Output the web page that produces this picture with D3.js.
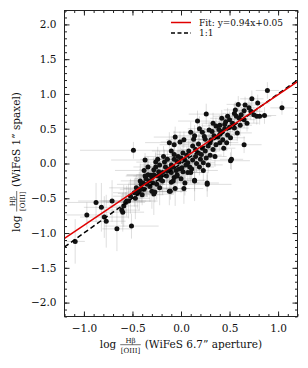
<!DOCTYPE html>
<html>
<head>
<meta charset="utf-8">
<script src="https://cdn.jsdelivr.net/npm/d3@7"></script>
<style>
  body { margin: 0; background: #fff; }
  text { font-family: "DejaVu Serif", serif; fill: #111; }
</style>
</head>
<body>
<script>
var width = 308, height = 368;

// each point: [x, y, xErr, yErr]
var ptsLow = [
  [-1.09,-1.12,0.10,0.32], [-0.97,-0.74,0.22,0.18], [-0.875,-0.56,0.30,0.28], [-0.82,-0.63,0.18,0.35],
  [-0.79,-0.77,0.25,0.30], [-0.77,-0.83,0.20,0.38], [-0.71,-0.54,0.35,0.30], [-0.66,-0.94,0.15,0.32],
  [-0.60,-0.70,0.22,0.28], [-0.61,-0.67,0.18,0.20], [-0.51,-0.90,0.28,0.18], [-0.56,-0.54,0.25,0.22],
  [-0.54,-0.54,0.30,0.25], [-0.59,-0.61,0.15,0.30], [-0.57,-0.56,0.20,0.15], [-0.52,-0.47,0.18,0.25],
  [-0.48,-0.42,0.22,0.20], [-0.47,-0.50,0.15,0.30], [-0.46,-0.35,0.28,0.18], [-0.45,-0.43,0.20,0.22],
  [-0.43,-0.40,0.12,0.28], [-0.41,-0.30,0.25,0.20], [-0.49,0.19,0.55,0.12], [-0.44,-0.38,0.10,0.15],
  [-0.42,-0.25,0.20,0.25]
];
var ptsMidLow = [
  [-0.41,-0.36,0.18,0.20], [-0.40,-0.45,0.22,0.15], [-0.39,-0.28,0.15,0.22], [-0.38,-0.37,0.25,0.12],
  [-0.38,-0.10,0.30,0.18], [-0.37,-0.18,0.20,0.15], [-0.37,0.05,0.35,0.10], [-0.36,-0.22,0.12,0.25],
  [-0.35,-0.30,0.18,0.18], [-0.34,-0.16,0.22,0.20], [-0.34,-0.05,0.15,0.15], [-0.33,-0.25,0.20,0.12],
  [-0.32,-0.33,0.10,0.22], [-0.31,-0.17,0.25,0.18], [-0.30,-0.20,0.15,0.15], [-0.30,-0.40,0.20,0.25],
  [-0.29,-0.28,0.12,0.20], [-0.28,-0.16,0.18,0.12], [-0.28,-0.44,0.20,0.30], [-0.28,-0.09,0.15,0.18],
  [-0.27,-0.41,0.22,0.15], [-0.26,-0.05,0.12,0.20], [-0.26,0.02,0.20,0.15], [-0.25,-0.30,0.15,0.22],
  [-0.24,-0.18,0.25,0.12], [-0.24,0.06,0.18,0.18], [-0.23,-0.12,0.12,0.15], [-0.22,-0.02,0.20,0.20],
  [-0.22,-0.35,0.15,0.25], [-0.21,-0.23,0.18,0.15], [-0.21,-0.18,0.10,0.18], [-0.19,-0.25,0.22,0.20],
  [-0.19,-0.13,0.15,0.12], [-0.18,0.10,0.20,0.15], [-0.17,0.02,0.12,0.18], [-0.16,-0.05,0.18,0.12],
  [-0.15,-0.18,0.15,0.20]
];
var ptsMid = [
  [-0.14,0.06,0.15,0.12], [-0.14,-0.11,0.20,0.15], [-0.12,-0.40,0.18,0.20], [-0.12,0.30,0.25,0.15],
  [-0.12,-0.08,0.12,0.18], [-0.11,-0.40,0.15,0.12], [-0.10,0.18,0.20,0.22], [-0.10,-0.02,0.12,0.15],
  [-0.10,-0.27,0.18,0.18], [-0.10,-0.13,0.15,0.12], [-0.08,-0.05,0.10,0.15], [-0.08,-0.25,0.20,0.20],
  [-0.07,0.06,0.15,0.12], [-0.07,-0.20,0.12,0.18], [-0.07,0.13,0.18,0.15], [-0.07,0.27,0.15,0.20],
  [-0.06,0.38,0.22,0.15], [-0.06,-0.36,0.15,0.25], [-0.05,-0.10,0.12,0.12], [-0.04,0.03,0.18,0.15],
  [-0.04,-0.16,0.15,0.18], [-0.04,-0.18,0.10,0.12], [-0.03,0.10,0.15,0.15], [-0.02,0.02,0.12,0.18],
  [-0.02,-0.08,0.18,0.12], [-0.01,0.31,0.20,0.15], [0.00,0.08,0.12,0.15], [0.00,-0.22,0.15,0.20],
  [0.01,-0.06,0.18,0.12], [0.02,0.15,0.12,0.18], [0.02,-0.12,0.15,0.15], [0.03,0.34,0.18,0.12],
  [0.03,-0.36,0.20,0.22], [0.04,0.05,0.12,0.12], [0.04,-0.28,0.15,0.18], [0.05,-0.02,0.10,0.15],
  [0.06,0.12,0.15,0.12], [0.07,0.01,0.12,0.15], [0.07,-0.13,0.18,0.12], [0.08,0.18,0.12,0.15],
  [0.09,-0.05,0.15,0.18], [0.10,-0.13,0.12,0.15]
];
var ptsMidHigh = [
  [0.10,0.45,0.18,0.15], [0.11,-0.08,0.12,0.15], [0.12,0.05,0.15,0.12], [0.12,0.25,0.12,0.18],
  [0.13,0.35,0.15,0.12], [0.14,0.40,0.18,0.15], [0.14,-0.24,0.12,0.30], [0.14,-0.25,0.10,0.15],
  [0.15,0.20,0.15,0.12], [0.15,0.10,0.12,0.15], [0.16,0.00,0.15,0.12], [0.17,0.61,0.20,0.15],
  [0.18,0.15,0.12,0.12], [0.18,0.28,0.15,0.15], [0.19,0.50,0.12,0.18], [0.19,-0.05,0.15,0.12],
  [0.20,0.06,0.12,0.15], [0.21,0.13,0.15,0.12], [0.22,0.22,0.12,0.15], [0.22,0.45,0.15,0.12],
  [0.23,0.01,0.12,0.12], [0.23,-0.10,0.15,0.15], [0.24,0.39,0.12,0.12], [0.25,0.18,0.15,0.15],
  [0.25,0.35,0.12,0.12], [0.26,0.71,0.18,0.15], [0.26,0.08,0.12,0.12], [0.27,-0.28,0.12,0.12],
  [0.27,-0.30,0.25,0.18], [0.28,0.25,0.12,0.15], [0.28,-0.02,0.15,0.12], [0.29,0.48,0.12,0.12],
  [0.30,0.30,0.15,0.12], [0.30,0.12,0.12,0.15], [0.31,0.34,0.12,0.12], [0.32,0.46,0.15,0.12],
  [0.33,0.58,0.12,0.15], [0.33,0.20,0.15,0.12], [0.34,0.40,0.12,0.12], [0.35,0.10,0.12,0.15],
  [0.36,0.54,0.15,0.12], [0.36,0.27,0.12,0.12], [0.38,0.38,0.12,0.15], [0.39,0.49,0.15,0.12]
];
var ptsHigh = [
  [0.40,0.30,0.12,0.12], [0.40,0.55,0.12,0.15], [0.40,0.42,0.15,0.12], [0.42,0.65,0.12,0.12],
  [0.42,0.46,0.12,0.15], [0.43,0.34,0.15,0.12], [0.44,0.22,0.12,0.12], [0.45,0.56,0.12,0.12],
  [0.45,0.50,0.15,0.15], [0.46,0.60,0.12,0.12], [0.47,0.30,0.12,0.12], [0.48,0.68,0.15,0.12],
  [0.48,0.41,0.12,0.15], [0.50,0.63,0.12,0.12], [0.50,0.52,0.12,0.12], [0.51,0.37,0.15,0.12],
  [0.51,0.04,0.20,0.12], [0.52,0.06,0.12,0.15], [0.53,0.58,0.12,0.12], [0.55,0.51,0.15,0.12],
  [0.55,0.72,0.12,0.15], [0.56,0.77,0.12,0.12], [0.57,0.68,0.12,0.12], [0.58,0.44,0.15,0.12],
  [0.59,0.85,0.12,0.12], [0.60,0.65,0.12,0.12], [0.61,0.55,0.12,0.15], [0.62,0.70,0.12,0.12],
  [0.65,0.63,0.12,0.12], [0.65,0.27,0.18,0.12], [0.65,0.76,0.12,0.12], [0.66,0.84,0.12,0.12],
  [0.68,0.58,0.12,0.12], [0.70,0.80,0.12,0.12], [0.72,0.75,0.12,0.12], [0.73,0.93,0.12,0.12],
  [0.75,0.70,0.12,0.12], [0.78,0.68,0.12,0.12], [0.79,0.87,0.12,0.12], [0.81,0.68,0.12,0.12],
  [0.86,0.69,0.12,0.12], [0.89,1.05,0.12,0.12], [1.04,0.80,0.12,0.10]
];

var xDomain = [-1.2, 1.2];
var yDomain = [-2.2, 2.2];
var xMajor = [-1.0, -0.5, 0.0, 0.5, 1.0];
var yMajor = [-2.0, -1.5, -1.0, -0.5, 0.0, 0.5, 1.0, 1.5, 2.0];
var fitSlope = 0.94, fitIntercept = 0.05;
var legendLabels = ["Fit: y=0.94x+0.05", "1:1"];

var points = ptsLow.concat(ptsMidLow, ptsMid, ptsMidHigh, ptsHigh);

var pLeft = 64.5, pRight = 297.5, pTop = 10.5, pBottom = 316.5;
var x = d3.scaleLinear().domain(xDomain).range([pLeft, pRight]);
var y = d3.scaleLinear().domain(yDomain).range([pBottom, pTop]);

var svg = d3.select("body").append("svg")
    .attr("width", width)
    .attr("height", height);

svg.append("defs").append("clipPath").attr("id", "clip")
    .append("rect")
    .attr("x", pLeft).attr("y", pTop)
    .attr("width", pRight - pLeft).attr("height", pBottom - pTop);

var plot = svg.append("g").attr("clip-path", "url(#clip)");

// error bars
var eb = plot.append("g")
    .attr("stroke", "#808080")
    .attr("stroke-opacity", 0.25)
    .attr("stroke-width", 1);
eb.selectAll("line.xe").data(points).enter().append("line")
    .attr("x1", function(d) { return x(d[0] - d[2]); })
    .attr("x2", function(d) { return x(d[0] + d[2]); })
    .attr("y1", function(d) { return y(d[1]); })
    .attr("y2", function(d) { return y(d[1]); });
eb.selectAll("line.ye").data(points).enter().append("line")
    .attr("x1", function(d) { return x(d[0]); })
    .attr("x2", function(d) { return x(d[0]); })
    .attr("y1", function(d) { return y(d[1] - d[3]); })
    .attr("y2", function(d) { return y(d[1] + d[3]); });

// points
plot.append("g").selectAll("circle").data(points).enter().append("circle")
    .attr("cx", function(d) { return x(d[0]); })
    .attr("cy", function(d) { return y(d[1]); })
    .attr("r", 2.5)
    .attr("fill", "#111");

// 1:1 and fit lines
plot.append("line")
    .attr("x1", x(xDomain[0])).attr("y1", y(xDomain[0]))
    .attr("x2", x(xDomain[1])).attr("y2", y(xDomain[1]))
    .attr("stroke", "#000").attr("stroke-width", 1.5)
    .attr("stroke-dasharray", "5,3");
plot.append("line")
    .attr("x1", x(xDomain[0])).attr("y1", y(fitSlope * xDomain[0] + fitIntercept))
    .attr("x2", x(xDomain[1])).attr("y2", y(fitSlope * xDomain[1] + fitIntercept))
    .attr("stroke", "#e00000").attr("stroke-width", 1.5);

// ticks (inward, all sides)
var xMinor = d3.range(-12, 13).map(function(i) { return i / 10; });
var yMinor = d3.range(-22, 23).map(function(i) { return i / 10; });
var fmt = d3.format(".1f");

function axis(gen, scale, pos, major, minor, labels) {
  var g1 = svg.append("g").attr("transform", pos);
  g1.call(gen(scale).tickValues(minor).tickSize(-2.5).tickFormat(""));
  var g2 = svg.append("g").attr("transform", pos);
  g2.call(gen(scale).tickValues(major).tickSize(-5).tickPadding(8)
      .tickFormat(labels ? fmt : ""));
  [g1, g2].forEach(function(g) {
    g.select(".domain").remove();
    g.selectAll("line").attr("stroke", "#222");
    g.selectAll("text").attr("font-family", "DejaVu Serif").attr("font-size", 10.5).attr("fill", "#111");
  });
  return g2;
}
axis(d3.axisBottom, x, "translate(0," + pBottom + ")", xMajor, xMinor, true);
axis(d3.axisTop, x, "translate(0," + pTop + ")", xMajor, xMinor, false);
axis(d3.axisLeft, y, "translate(" + pLeft + ",0)", yMajor, yMinor, true);
axis(d3.axisRight, y, "translate(" + pRight + ",0)", yMajor, yMinor, false);

svg.append("rect")
    .attr("x", pLeft).attr("y", pTop)
    .attr("width", pRight - pLeft).attr("height", pBottom - pTop)
    .attr("fill", "none").attr("stroke", "#222").attr("stroke-width", 1);

// legend
var legend = svg.append("g");
var legendStyles = [{stroke: "#e00000", dash: null}, {stroke: "#000", dash: "4,2.5"}];
legendLabels.forEach(function(lbl, i) {
  var ly = 22.5 + i * 10.5;
  legend.append("line")
      .attr("x1", 171).attr("x2", 191).attr("y1", ly).attr("y2", ly)
      .attr("stroke", legendStyles[i].stroke).attr("stroke-width", 1.5)
      .attr("stroke-dasharray", legendStyles[i].dash);
  legend.append("text")
      .attr("x", 199).attr("y", ly + 3.3)
      .attr("font-size", 9)
      .text(lbl);
});

// axis labels with a fraction
function fracLabel(g, rest) {
  var t1 = g.append("text").attr("font-size", 10.5).text("log");
  var w1 = t1.node().getComputedTextLength();
  var num = g.append("text").attr("font-size", 7).attr("text-anchor", "middle").text("H\u03b2");
  var den = g.append("text").attr("font-size", 7).attr("text-anchor", "middle").text("[OIII]");
  var fw = Math.max(num.node().getComputedTextLength(), den.node().getComputedTextLength()) + 1;
  var cx = w1 + 4 + fw / 2;
  num.attr("x", cx).attr("y", -5);
  den.attr("x", cx).attr("y", 4.5);
  g.append("line").attr("x1", cx - fw / 2).attr("x2", cx + fw / 2)
      .attr("y1", -3.3).attr("y2", -3.3).attr("stroke", "#111").attr("stroke-width", 0.6);
  var t3 = g.append("text").attr("font-size", 10.5).attr("x", w1 + 4 + fw + 4).text(rest);
  return w1 + 4 + fw + 4 + t3.node().getComputedTextLength();
}

var xl = svg.append("g");
var xw = fracLabel(xl, "(WiFeS 6.7\u201d aperture)");
xl.attr("transform", "translate(" + (181 - xw / 2) + ",348)");

var yl = svg.append("g");
var yw = fracLabel(yl, "(WiFeS 1\u201d spaxel)");
yl.attr("transform", "translate(20," + (162 + yw / 2) + ") rotate(-90)");
</script>
</body>
</html>
